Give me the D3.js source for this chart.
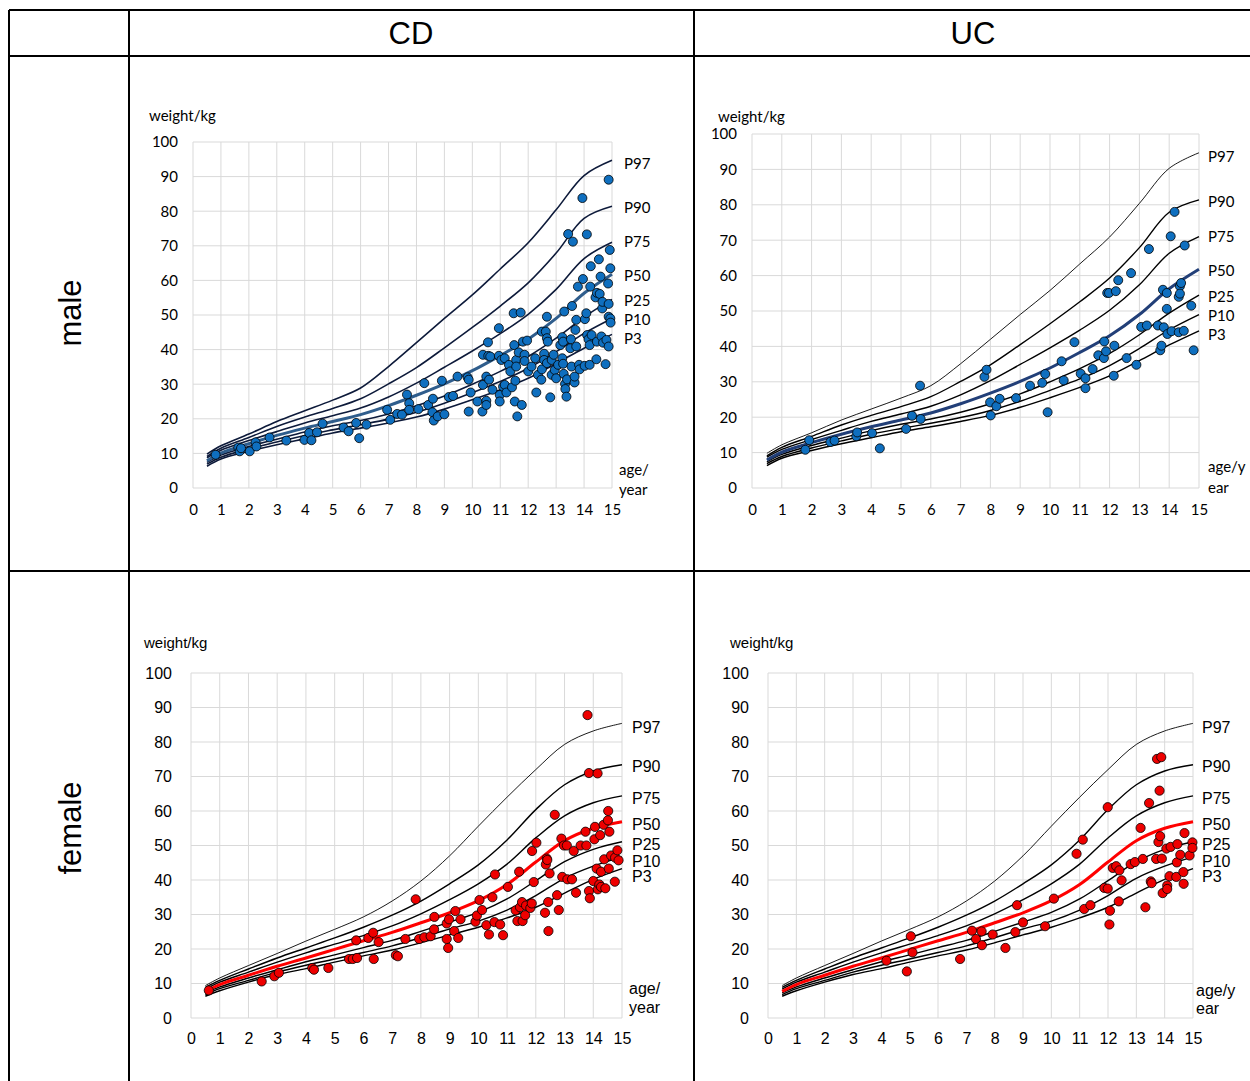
<!DOCTYPE html>
<html>
<head>
<meta charset="utf-8">
<script src="https://cdn.jsdelivr.net/npm/d3@7"></script>
<style>
  body { margin: 0; background: #fff; }
  svg { display: block; }
</style>
</head>
<body>
<main></main>
<script>
// ages at which the percentile curves are given
const ages = [0.5, 1, 2, 3, 4, 5, 6, 7, 8, 9, 10, 11, 12, 13, 14, 15];
const pctNames = ['P97', 'P90', 'P75', 'P50', 'P25', 'P10', 'P3'];

// boys weight percentiles (kg)
const boysP97 = [9.8, 12.2, 15.6, 19.2, 22.3, 25.4, 28.9, 35.1, 42.0, 49.0, 55.8, 63.3, 70.9, 80.4, 90.3, 94.7];
const boysP90 = [9.1, 11.5, 14.6, 17.8, 20.5, 23.0, 25.8, 30.1, 34.8, 40.5, 46.4, 52.6, 59.3, 67.9, 77.9, 81.4];
const boysP75 = [8.7, 10.9, 13.7, 16.3, 18.8, 20.9, 23.1, 26.3, 30.3, 34.9, 39.6, 44.6, 50.2, 57.4, 66.3, 71.0];
const boysP50 = [7.9, 10.1, 12.8, 15.2, 17.3, 19.2, 21.2, 23.8, 26.8, 30.1, 33.9, 38.3, 43.0, 49.0, 56.3, 61.8];
const boysP25 = [7.4, 9.5, 12.0, 14.1, 16.2, 18.0, 19.5, 21.4, 23.8, 26.6, 30.0, 33.7, 38.0, 43.3, 49.4, 54.5];
const boysP10 = [6.9, 8.9, 11.3, 13.3, 15.2, 16.8, 18.3, 19.9, 21.9, 24.5, 27.6, 30.8, 34.6, 39.4, 44.7, 49.0];
const boysP3  = [6.3, 8.4, 10.6, 12.5, 14.2, 15.9, 17.3, 18.8, 20.5, 22.8, 25.5, 28.4, 31.7, 36.0, 40.4, 44.4];

// girls weight percentiles (kg)
const girlsP97 = [9.4, 11.6, 15.2, 18.7, 22.3, 25.7, 29.3, 33.9, 39.7, 47.0, 55.6, 64.0, 72.0, 79.3, 83.2, 85.4];
const girlsP90 = [8.9, 10.9, 14.2, 17.4, 20.3, 23.2, 26.3, 29.8, 33.9, 38.9, 44.4, 51.6, 60.4, 67.6, 71.6, 73.4];
const girlsP75 = [8.4, 10.4, 13.3, 16.2, 18.9, 21.4, 23.9, 26.7, 30.2, 34.3, 38.9, 44.6, 52.2, 58.6, 62.4, 64.4];
const girlsP50 = [7.7, 9.7, 12.4, 15.0, 17.4, 19.9, 22.4, 24.8, 27.6, 30.5, 34.0, 38.7, 45.2, 51.4, 55.0, 56.9];
const girlsP25 = [7.3, 9.0, 11.6, 14.0, 16.3, 18.3, 20.4, 22.5, 25.1, 27.8, 30.6, 34.5, 39.8, 45.3, 48.9, 51.1];
const girlsP10 = [6.8, 8.5, 10.9, 13.3, 15.3, 17.1, 19.0, 20.9, 23.3, 25.8, 28.1, 31.3, 35.5, 40.5, 44.0, 46.7];
const girlsP3  = [6.3, 7.9, 10.4, 12.6, 14.3, 16.2, 18.0, 19.7, 21.8, 24.1, 26.3, 29.0, 32.1, 36.2, 40.2, 43.3];

// where the percentile names sit (kg)
const boysLabelAt  = [93.8, 81.2, 71.3, 61.6, 54.3, 48.8, 43.4];
const girlsLabelAt = [84.3, 72.8, 63.6, 56.2, 50.3, 45.5, 40.9];

const xTicks = d3.range(0, 16);
const yTicks = d3.range(0, 101, 10);

// patients: [age/year, weight/kg]
const cdMale = [
  [0.81,9.6],[1.62,11.7],[1.67,10.6],[1.72,11.5],[2.03,10.6],[2.24,13.2],[2.27,12.0],[2.74,14.6],
  [3.34,13.7],[3.99,13.9],[4.16,15.9],[4.24,13.8],[4.44,16.1],[4.64,18.6],[5.39,17.5],[5.57,16.4],
  [5.84,18.8],[5.95,14.4],[6.21,18.3],[6.95,22.6],[7.06,19.7],[7.31,21.4],[7.48,21.2],[7.66,27.0],
  [7.74,24.5],[7.74,22.6],[8.07,22.8],[8.28,30.3],[8.42,24.0],[8.59,25.8],[8.57,21.9],[8.62,19.5],
  [8.76,20.7],[8.91,31.0],[9.0,21.3],[9.16,26.3],[9.31,26.6],[9.47,32.2],[9.83,32.0],[9.87,31.3],
  [9.94,27.6],[9.87,22.1],[10.18,25.0],[10.38,38.5],[10.38,29.8],[10.36,22.1],[10.5,32.2],[10.5,25.2],
  [10.5,24.0],[10.56,42.1],[10.57,38.2],[10.64,38.0],[10.6,31.3],[10.72,28.4],[10.95,46.2],[10.95,38.2],
  [10.98,26.9],[10.98,25.0],[11.04,37.0],[11.1,29.3],[11.16,37.5],[11.16,29.8],[11.22,27.6],[11.31,35.6],
  [11.36,33.7],[11.42,29.1],[11.48,50.5],[11.5,41.3],[11.52,25.0],[11.57,37.0],[11.57,35.1],[11.54,31.0],
  [11.61,20.7],[11.66,39.2],[11.73,50.7],[11.77,24.0],[11.81,42.3],[11.87,38.5],[11.87,36.7],[11.96,42.6],
  [12.0,33.7],[12.12,35.1],[12.25,37.5],[12.29,27.6],[12.35,32.7],[12.47,31.3],[12.49,34.3],[12.49,45.2],
  [12.57,38.8],[12.57,37.0],[12.63,45.2],[12.67,49.5],[12.67,43.3],[12.7,42.3],[12.67,36.1],[12.79,26.2],
  [12.84,37.0],[12.84,32.7],[12.91,38.5],[12.95,34.1],[13.0,31.7],[13.07,35.6],[13.15,41.3],[13.22,43.6],
  [13.25,42.3],[13.22,37.5],[13.25,35.9],[13.27,33.0],[13.29,51.0],[13.32,30.1],[13.33,28.6],[13.37,26.4],
  [13.43,73.4],[13.39,31.4],[13.51,40.4],[13.53,43.0],[13.55,35.1],[13.57,52.6],[13.6,71.2],[13.66,30.5],
  [13.66,32.2],[13.69,45.7],[13.72,40.9],[13.72,48.6],[13.78,58.2],[13.82,35.6],[13.84,34.3],[13.96,60.4],
  [13.94,83.8],[14.02,35.3],[14.03,48.8],[14.08,50.5],[14.1,73.3],[14.11,44.2],[14.16,43.0],[14.2,35.6],
  [14.22,58.2],[14.24,64.1],[14.2,41.3],[14.27,44.2],[14.44,37.2],[14.41,55.1],[14.46,56.4],[14.46,42.3],
  [14.53,66.1],[14.56,56.1],[14.59,61.1],[14.62,43.8],[14.65,51.9],[14.66,53.8],[14.68,42.0],[14.77,35.8],
  [14.8,42.8],[14.86,59.1],[14.88,89.1],[14.88,53.2],[14.88,49.5],[14.88,40.9],[14.92,68.8],[14.94,63.5],
  [14.94,49.0],[14.95,47.8]
];

const ucMale = [
  [1.79,10.8],[1.92,13.5],[2.63,13.0],[2.77,13.4],[3.5,14.6],[3.53,15.7],[4.03,15.5],[4.29,11.2],
  [5.17,16.7],[5.37,20.4],[5.64,28.9],[5.66,19.5],[7.8,31.4],[7.87,33.4],[7.99,24.2],[8.01,20.5],
  [8.2,23.1],[8.31,25.2],[8.86,25.4],[9.33,28.9],[9.74,29.7],[9.84,32.2],[9.92,21.4],[10.39,35.8],
  [10.46,30.4],[10.82,41.2],[11.03,32.3],[11.19,31.0],[11.19,28.2],[11.43,33.6],[11.62,37.5],[11.81,36.7],
  [11.82,41.4],[11.88,38.6],[11.92,55.1],[11.98,55.1],[12.14,31.7],[12.16,40.2],[12.21,55.6],[12.29,58.7],
  [12.57,36.7],[12.72,60.7],[12.9,34.8],[13.06,45.5],[13.25,45.9],[13.32,67.5],[13.62,45.9],[13.7,38.9],
  [13.74,40.2],[13.79,56.0],[13.82,45.4],[13.92,55.1],[13.92,50.6],[13.94,43.5],[14.05,71.1],[14.08,44.3],
  [14.18,78.0],[14.32,54.0],[14.36,57.0],[14.36,54.9],[14.4,57.9],[14.32,44.0],[14.49,44.4],[14.52,68.5],
  [14.74,51.5],[14.82,38.9]
];

const cdFemale = [
  [0.62,8.0],[2.46,10.6],[2.9,12.1],[3.06,13.1],[4.22,14.5],[4.28,14.0],[4.78,14.5],[5.5,17.1],
  [5.63,17.1],[5.75,22.5],[5.78,17.4],[6.17,23.2],[6.34,24.7],[6.36,17.1],[6.53,22.0],[7.13,18.2],
  [7.2,17.9],[7.46,22.9],[7.82,34.4],[7.94,22.9],[8.12,23.4],[8.34,23.7],[8.46,25.7],[8.47,29.3],
  [8.9,22.9],[8.9,27.4],[8.98,28.6],[8.95,20.3],[9.16,25.2],[9.2,31.0],[9.3,23.2],[9.38,28.6],
  [9.9,27.9],[9.95,29.7],[10.04,34.2],[10.13,31.3],[10.28,26.9],[10.37,24.2],[10.49,35.0],[10.56,27.8],
  [10.58,41.6],[10.76,27.1],[10.86,24.0],[11.03,38.0],[11.3,31.2],[11.36,28.1],[11.42,42.4],[11.45,32.1],
  [11.52,33.6],[11.54,28.1],[11.63,29.8],[11.66,32.6],[11.81,31.9],[11.86,33.2],[11.87,48.4],[11.93,39.4],
  [12.02,50.8],[12.32,30.5],[12.35,44.5],[12.38,46.2],[12.4,45.8],[12.43,33.6],[12.44,25.2],[12.48,41.9],
  [12.66,58.9],[12.74,35.6],[12.8,31.3],[12.89,52.0],[12.92,40.9],[12.98,50.0],[13.08,50.0],[13.1,40.2],
  [13.26,40.2],[13.32,48.4],[13.4,36.3],[13.56,50.0],[13.73,54.0],[13.76,50.0],[13.8,87.8],[13.85,71.0],
  [13.85,36.8],[13.88,34.7],[14.0,39.7],[14.04,51.8],[14.06,55.4],[14.12,43.3],[14.15,70.9],[14.16,37.3],
  [14.21,38.7],[14.24,53.0],[14.27,38.0],[14.27,42.4],[14.36,56.0],[14.38,46.0],[14.42,37.6],[14.51,57.3],
  [14.52,60.0],[14.54,43.3],[14.56,54.0],[14.62,47.1],[14.75,39.5],[14.76,46.5],[14.84,48.6],[14.88,45.7]
];

const ucFemale = [
  [4.18,16.6],[4.9,13.5],[5.04,23.7],[5.1,19.0],[6.78,17.1],[7.2,25.3],[7.34,22.9],[7.54,25.1],
  [7.55,21.1],[7.93,24.2],[8.38,20.3],[8.73,24.9],[8.79,32.7],[9.0,27.7],[9.78,26.6],[10.09,34.6],
  [10.89,47.6],[11.11,51.7],[11.16,31.6],[11.38,32.7],[11.87,37.7],[11.99,37.5],[11.99,61.1],[12.07,31.1],
  [12.05,27.1],[12.17,43.5],[12.29,44.0],[12.4,42.8],[12.38,33.8],[12.48,39.9],[12.8,44.6],[12.95,45.2],
  [13.15,55.1],[13.23,46.1],[13.32,32.1],[13.45,62.3],[13.51,39.6],[13.54,39.1],[13.7,46.1],[13.73,75.1],
  [13.78,51.0],[13.82,65.9],[13.84,52.7],[13.88,75.6],[13.9,46.2],[13.93,36.2],[14.06,49.1],[14.09,38.4],
  [14.09,37.4],[14.17,41.1],[14.21,49.6],[14.41,40.9],[14.43,45.1],[14.45,50.4],[14.55,47.3],[14.66,42.3],
  [14.67,38.9],[14.7,53.6],[14.88,47.1],[14.98,50.9],[14.98,49.3]
];

const boys = [boysP97, boysP90, boysP75, boysP50, boysP25, boysP10, boysP3];
const girls = [girlsP97, girlsP90, girlsP75, girlsP50, girlsP25, girlsP10, girlsP3];

const W = 1250, H = 1081;
const svg = d3.select('main').append('svg')
  .attr('width', W)
  .attr('height', H)
  .style('background', '#fff');

// table frame
const rule = (x1, y1, x2, y2) => svg.append('line')
  .attr('x1', x1).attr('y1', y1).attr('x2', x2).attr('y2', y2)
  .attr('stroke', '#000').attr('stroke-width', 2);
rule(9, 10, 1250, 10);
rule(9, 56, 1250, 56);
rule(9, 571, 1250, 571);
rule(9, 10, 9, 1081);
rule(129, 10, 129, 1081);
rule(694, 10, 694, 1081);

const headFont = '"Liberation Sans", Arial, sans-serif';
svg.append('text').text('CD').attr('x', 411).attr('y', 33)
  .attr('text-anchor', 'middle').attr('dominant-baseline', 'central')
  .style('font-family', headFont).style('font-size', '31px');
svg.append('text').text('UC').attr('x', 973).attr('y', 33)
  .attr('text-anchor', 'middle').attr('dominant-baseline', 'central')
  .style('font-family', headFont).style('font-size', '31px');
svg.append('text').text('male')
  .attr('transform', 'translate(70,313) rotate(-90)')
  .attr('text-anchor', 'middle').attr('dominant-baseline', 'central')
  .style('font-family', headFont).style('font-size', '31px');
svg.append('text').text('female')
  .attr('transform', 'translate(70,828) rotate(-90)')
  .attr('text-anchor', 'middle').attr('dominant-baseline', 'central')
  .style('font-family', headFont).style('font-size', '31px');

const panels = [
  {
    pts: cdMale, pct: boys, labelAt: boysLabelAt,
    l: 193, r: 612, t: 142, b: 488,
    font: 'Lato, "Open Sans", sans-serif', fs: 15, titleFs: 15,
    titleX: 149, titleY: 115, ageX: 619, ageText: ['age/', 'year'], ageY: [469, 489],
    labelX: 624, yLabelGap: 15, xLabelGap: 22,
    line: '#0d1a3a', lineW: 1.6, topW: 1.6, mid: '#2f5d8c', dot: '#0f6fbf', dotR: 4.5
  },
  {
    pts: ucMale, pct: boys, labelAt: boysLabelAt,
    l: 752, r: 1199, t: 134, b: 488,
    font: 'Lato, "Open Sans", sans-serif', fs: 15, titleFs: 15,
    titleX: 718, titleY: 116, ageX: 1208, ageText: ['age/y', 'ear'], ageY: [466, 487],
    labelX: 1208, yLabelGap: 15, xLabelGap: 22,
    line: '#000', lineW: 1.4, topW: 0.9, mid: '#223f78', dot: '#0f6fbf', dotR: 4.5
  },
  {
    pts: cdFemale, pct: girls, labelAt: girlsLabelAt,
    l: 191, r: 622, t: 673, b: 1018,
    font: '"Liberation Sans", Arial, sans-serif', fs: 16, titleFs: 15,
    titleX: 144, titleY: 642, ageX: 629, ageText: ['age/', 'year'], ageY: [988, 1007],
    labelX: 632, yLabelGap: 19, xLabelGap: 20,
    line: '#000', lineW: 1.4, topW: 0.9, mid: '#ff0000', dot: '#ee0000', dotR: 4.6
  },
  {
    pts: ucFemale, pct: girls, labelAt: girlsLabelAt,
    l: 768, r: 1193, t: 673, b: 1018,
    font: '"Liberation Sans", Arial, sans-serif', fs: 16, titleFs: 15,
    titleX: 730, titleY: 642, ageX: 1196, ageText: ['age/y', 'ear'], ageY: [990, 1008],
    labelX: 1202, yLabelGap: 19, xLabelGap: 20,
    line: '#000', lineW: 1.4, topW: 0.9, mid: '#ff0000', dot: '#ee0000', dotR: 4.6
  }
];

panels.forEach(p => {
  const g = svg.append('g').style('font-family', p.font);

  const x = d3.scaleLinear().domain([0, 15]).range([p.l, p.r]);
  const y = d3.scaleLinear().domain([0, 100]).range([p.b, p.t]);

  // grid
  g.append('g').selectAll('line.v').data(xTicks).enter().append('line')
    .attr('x1', d => x(d)).attr('x2', d => x(d))
    .attr('y1', p.t).attr('y2', p.b)
    .attr('stroke', '#d9d9d9').attr('stroke-width', 1);
  g.append('g').selectAll('line.h').data(yTicks).enter().append('line')
    .attr('x1', p.l).attr('x2', p.r)
    .attr('y1', d => y(d)).attr('y2', d => y(d))
    .attr('stroke', '#d9d9d9').attr('stroke-width', 1);

  // axes (labels only, Excel style)
  const xAxis = g.append('g')
    .attr('transform', `translate(0,${p.b + p.xLabelGap})`)
    .call(d3.axisBottom(x).tickValues(xTicks).tickSize(0).tickPadding(0));
  xAxis.select('.domain').remove();
  xAxis.selectAll('text')
    .attr('dy', '0.35em')
    .style('font-family', p.font).style('font-size', p.fs + 'px').attr('fill', '#000');

  const yAxis = g.append('g')
    .attr('transform', `translate(${p.l - p.yLabelGap},0)`)
    .call(d3.axisLeft(y).tickValues(yTicks).tickSize(0).tickPadding(0));
  yAxis.select('.domain').remove();
  yAxis.selectAll('text')
    .style('font-family', p.font).style('font-size', p.fs + 'px').attr('fill', '#000');

  // percentile curves
  const line = d3.line()
    .x((d, i) => x(ages[i]))
    .y(d => y(d))
    .curve(d3.curveCatmullRom.alpha(0.5));

  p.pct.forEach((vals, k) => {
    if (k === 3) return;
    g.append('path')
      .attr('d', line(vals))
      .attr('fill', 'none')
      .attr('stroke', p.line)
      .attr('stroke-width', k === 0 ? p.topW : p.lineW);
  });
  g.append('path')
    .attr('d', line(p.pct[3]))
    .attr('fill', 'none')
    .attr('stroke', p.mid)
    .attr('stroke-width', 3);

  // patients
  g.append('g').selectAll('circle').data(p.pts).enter().append('circle')
    .attr('cx', d => x(d[0]))
    .attr('cy', d => y(d[1]))
    .attr('r', p.dotR)
    .attr('fill', p.dot)
    .attr('stroke', '#000')
    .attr('stroke-width', 0.8);

  // percentile names
  g.append('g').selectAll('text').data(pctNames).enter().append('text')
    .text(d => d)
    .attr('x', p.labelX)
    .attr('y', (d, i) => y(p.labelAt[i]))
    .attr('dominant-baseline', 'central')
    .style('font-size', p.fs + 'px');

  // axis titles
  g.append('text').text('weight/kg')
    .attr('x', p.titleX).attr('y', p.titleY)
    .attr('dominant-baseline', 'central')
    .style('font-size', p.titleFs + 'px');
  p.ageText.forEach((t, i) => {
    g.append('text').text(t)
      .attr('x', p.ageX).attr('y', p.ageY[i])
      .attr('dominant-baseline', 'central')
      .style('font-size', p.fs + 'px');
  });
});
</script>
</body>
</html>
